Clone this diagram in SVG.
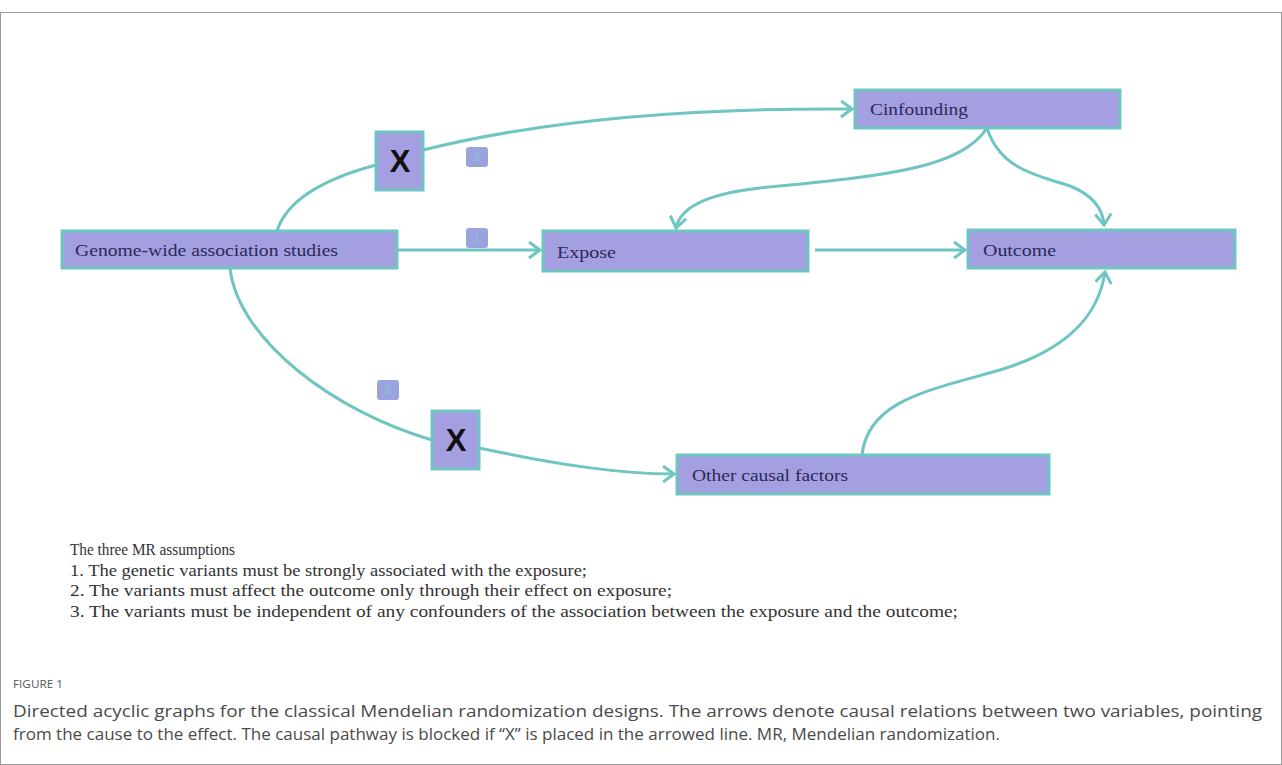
<svg xmlns="http://www.w3.org/2000/svg" width="1282" height="765" viewBox="0 0 1282 765">
<style>
.node{fill:#a39fe0;stroke:#6ec5c2;stroke-width:3}
.lbl{font-family:"Liberation Serif",serif;font-size:16px;fill:#2b2a57}
.conn path{fill:none;stroke:#6ec5c2;stroke-width:3}
.xbox{fill:#a39fe0;stroke:#6ec5c2;stroke-width:3}
.xt{font-family:"Liberation Sans",sans-serif;font-size:31px;font-weight:bold;fill:#111;text-anchor:middle}
.tag{fill:#9ba3de}
.tagt{font-family:"Liberation Sans",sans-serif;font-size:11px;fill:#86c9d6;text-anchor:middle}
.mr{font-family:"Liberation Serif",serif;font-size:16px;fill:#333}
.cap{font-family:"Open Sans","Liberation Sans",sans-serif;font-size:16px;fill:#4a4a4a}
</style>
<defs>
<marker id="arr" markerUnits="userSpaceOnUse" markerWidth="18" markerHeight="20" refX="13" refY="9" orient="auto">
<path d="M2,1 L13,9 L2,17" fill="none" stroke="#6ec5c2" stroke-width="3"/>
</marker>
</defs>
<rect x="0.5" y="12.5" width="1281" height="752" fill="#fff" stroke="#9a9a9a" stroke-width="1"/>
<g class="conn">
<path d="M277,231 C288,196 335,176 376,165"/>
<path d="M423,150 C560,116 720,108 852,109" marker-end="url(#arr)"/>
<path d="M230,268 C238,340 335,412 432,440"/>
<path d="M479,448 C560,465 620,474 674,474" marker-end="url(#arr)"/>
<path d="M987,128 C960,170 880,176 760,188 C705,194 680,208 676,228" marker-end="url(#arr)"/>
<path d="M987,128 C1000,170 1040,176 1070,186 C1095,196 1103,210 1104,225" marker-end="url(#arr)"/>
<path d="M862,455 C868,400 930,390 1000,370 C1080,346 1100,305 1105,272" marker-end="url(#arr)"/>
<path d="M397,250 L540,250" marker-end="url(#arr)"/>
<path d="M815,250 L965,250" marker-end="url(#arr)"/>
</g>
<g id="gwas"><rect class="node" x="62" y="231" width="335" height="37"/><text class="lbl" x="75" y="256" textLength="263" lengthAdjust="spacingAndGlyphs">Genome-wide association studies</text></g>
<g id="expose"><rect class="node" x="543" y="231" width="265" height="40"/><text class="lbl" x="557" y="258" textLength="59" lengthAdjust="spacingAndGlyphs">Expose</text></g>
<g id="outcome"><rect class="node" x="968" y="230" width="267" height="38"/><text class="lbl" x="983" y="256" textLength="73" lengthAdjust="spacingAndGlyphs">Outcome</text></g>
<g id="cinfounding"><rect class="node" x="855" y="90" width="265" height="38"/><text class="lbl" x="870" y="115" textLength="98" lengthAdjust="spacingAndGlyphs">Cinfounding</text></g>
<g id="other"><rect class="node" x="677" y="455" width="372" height="39"/><text class="lbl" x="692" y="481" textLength="156" lengthAdjust="spacingAndGlyphs">Other causal factors</text></g>
<g id="x1"><rect class="xbox" x="376" y="132" width="47" height="58"/><text class="xt" x="400" y="172">X</text></g>
<g id="x2"><rect class="xbox" x="432" y="411" width="47" height="58"/><text class="xt" x="456" y="451">X</text></g>
<g id="tag2"><rect class="tag" x="466" y="147" width="22" height="20" rx="3"/><text class="tagt" x="477" y="161">2</text></g>
<g id="tag1"><rect class="tag" x="466" y="228" width="22" height="20" rx="3"/><text class="tagt" x="477" y="242">1</text></g>
<g id="tag3"><rect class="tag" x="377" y="380" width="22" height="20" rx="3"/><text class="tagt" x="388" y="394">3</text></g>
<g id="assumptions">
<text class="mr" x="70" y="555" textLength="165" lengthAdjust="spacingAndGlyphs">The three MR assumptions</text>
<text class="mr" x="70" y="576" textLength="517" lengthAdjust="spacingAndGlyphs">1. The genetic variants must be strongly associated with the exposure;</text>
<text class="mr" x="70" y="596" textLength="602" lengthAdjust="spacingAndGlyphs">2. The variants must affect the outcome only through their effect on exposure;</text>
<text class="mr" x="70" y="617" textLength="888" lengthAdjust="spacingAndGlyphs">3. The variants must be independent of any confounders of the association between the exposure and the outcome;</text>
</g>
<g id="caption">
<text x="13" y="688" font-family="'Open Sans','Liberation Sans',sans-serif" font-size="11" fill="#555" textLength="50" lengthAdjust="spacingAndGlyphs">FIGURE 1</text>
<text class="cap" x="13" y="717" textLength="1249" lengthAdjust="spacingAndGlyphs">Directed acyclic graphs for the classical Mendelian randomization designs. The arrows denote causal relations between two variables, pointing</text>
<text class="cap" x="13" y="740" textLength="987" lengthAdjust="spacingAndGlyphs">from the cause to the effect. The causal pathway is blocked if “X” is placed in the arrowed line. MR, Mendelian randomization.</text>
</g>
</svg>
